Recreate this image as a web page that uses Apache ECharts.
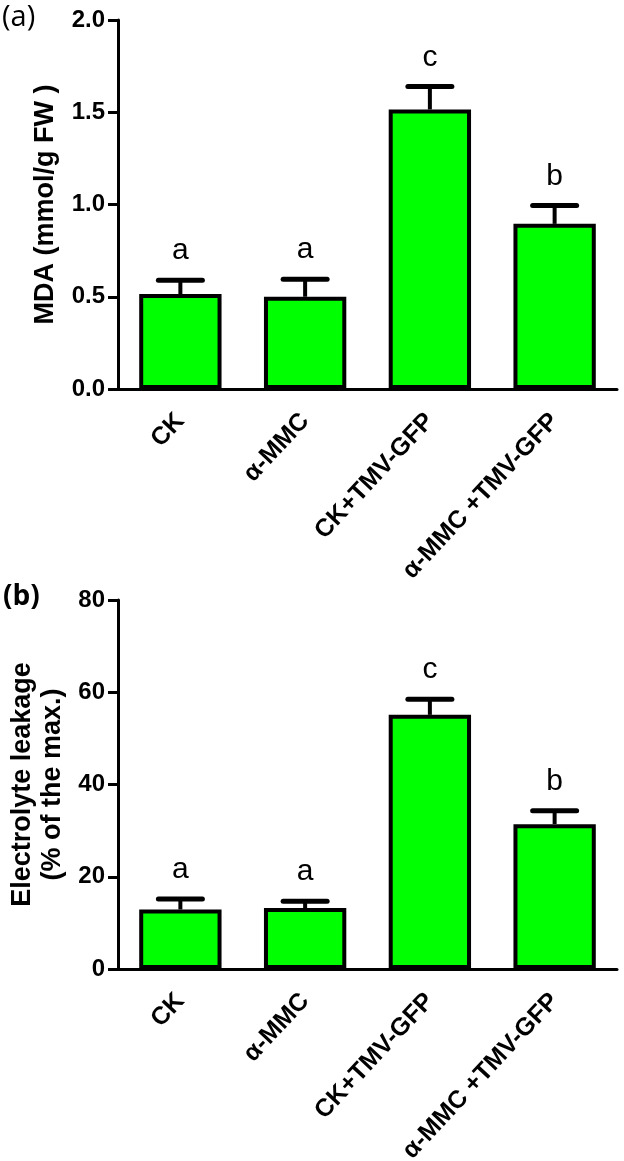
<!DOCTYPE html>
<html>
<head>
<meta charset="utf-8">
<script src="https://cdn.jsdelivr.net/npm/echarts@6/dist/echarts.min.js"></script>
<style>html,body{margin:0;padding:0;background:#fff;}#main{width:624px;height:1161px;}</style>
</head>
<body>
<div id="main"></div>
<script>
const categories = ['CK', 'α-MMC', 'CK+TMV-GFP', 'α-MMC +TMV-GFP'];
const mdaMean = [0.515, 0.50, 1.515, 0.895];
const mdaErr = [0.075, 0.095, 0.125, 0.10];
const mdaLetters = ['a', 'a', 'c', 'b'];
const elMean = [12.9, 13.2, 55.1, 31.4];
const elErr = [2.3, 1.5, 3.4, 2.9];
const elLetters = ['a', 'a', 'c', 'b'];
const mdaTicks = { min: 0, max: 2.0, interval: 0.5 };
const elTicks = { min: 0, max: 80, interval: 20 };

const FONT = '"Liberation Sans", Arial, sans-serif';
const chart = echarts.init(document.getElementById('main'), null, { renderer: 'canvas' });

function errData(mean, err, letters) {
  return mean.map((m, i) => [i, m, m + err[i], letters[i]]);
}
function errRender(params, api) {
  const i = api.value(0);
  const base = api.coord([i, api.value(1)]);
  const top = api.coord([i, api.value(2)]);
  const half = 22;
  return {
    type: 'group',
    children: [
      { type: 'line', shape: { x1: base[0], y1: base[1], x2: top[0], y2: top[1] },
        style: { stroke: '#000', lineWidth: 4 } },
      { type: 'line', shape: { x1: top[0] - half, y1: top[1], x2: top[0] + half, y2: top[1] },
        style: { stroke: '#000', lineWidth: 5, lineCap: 'round' } },
      { type: 'text', x: top[0], y: top[1] - 14,
        style: { text: api.value(3), fill: '#000', font: '30px ' + FONT, align: 'center', verticalAlign: 'bottom' } }
    ]
  };
}

const axisLineStyle = { color: '#000', width: 3 };
function xAxis(gi) {
  return {
    type: 'category', gridIndex: gi, data: categories,
    axisLine: { lineStyle: axisLineStyle },
    axisTick: { alignWithLabel: true, length: 11, lineStyle: { color: '#000', width: 3 } },
    axisLabel: { rotate: 47, margin: 28, color: '#000', fontWeight: 'bold', fontSize: 25, fontFamily: FONT, interval: 0 },
    splitLine: { show: false }
  };
}
function yAxis(gi, t, name, nameGap, fmt) {
  return {
    type: 'value', gridIndex: gi, min: t.min, max: t.max, interval: t.interval,
    name: name, nameLocation: 'middle', nameGap: nameGap,
    nameTextStyle: { color: '#000', fontWeight: 'bold', fontSize: 27, fontFamily: FONT, lineHeight: 30 },
    axisLine: { show: true, lineStyle: axisLineStyle },
    axisTick: { show: true, length: 10, lineStyle: { color: '#000', width: 3 } },
    axisLabel: { margin: 13, color: '#000', fontWeight: 'bold', fontSize: 24, fontFamily: FONT, formatter: fmt },
    splitLine: { show: false }
  };
}

const barStyle = { color: '#00ff00', borderColor: '#000', borderWidth: 4 };

chart.setOption({
  animation: false,
  backgroundColor: '#fff',
  grid: [
    { left: 118, top: 20, width: 499, height: 369, containLabel: false, outerBoundsMode: 'none' },
    { left: 118, top: 600, width: 499, height: 369, containLabel: false, outerBoundsMode: 'none' }
  ],
  xAxis: [xAxis(0), xAxis(1)],
  yAxis: [
    yAxis(0, mdaTicks, 'MDA (mmol/g FW )', 57, v => v.toFixed(1)),
    yAxis(1, elTicks, 'Electrolyte leakage\n(% of the max.)', 41, v => String(v))
  ],
  graphic: [
    { type: 'text', left: 2, top: 3, style: { text: '(a)', fill: '#000', font: '29px "Open Sans", ' + FONT } },
    { type: 'text', left: 3, top: 583, style: { text: '(b)', fill: '#000', font: 'bold 28px "Open Sans", ' + FONT } }
  ],
  series: [
    { type: 'bar', xAxisIndex: 0, yAxisIndex: 0, data: mdaMean, barWidth: '66%', itemStyle: barStyle, z: 2 },
    { type: 'custom', xAxisIndex: 0, yAxisIndex: 0, data: errData(mdaMean, mdaErr, mdaLetters), renderItem: errRender, z: 1 },
    { type: 'bar', xAxisIndex: 1, yAxisIndex: 1, data: elMean, barWidth: '66%', itemStyle: barStyle, z: 2 },
    { type: 'custom', xAxisIndex: 1, yAxisIndex: 1, data: errData(elMean, elErr, elLetters), renderItem: errRender, z: 1 }
  ]
});
</script>
</body>
</html>
